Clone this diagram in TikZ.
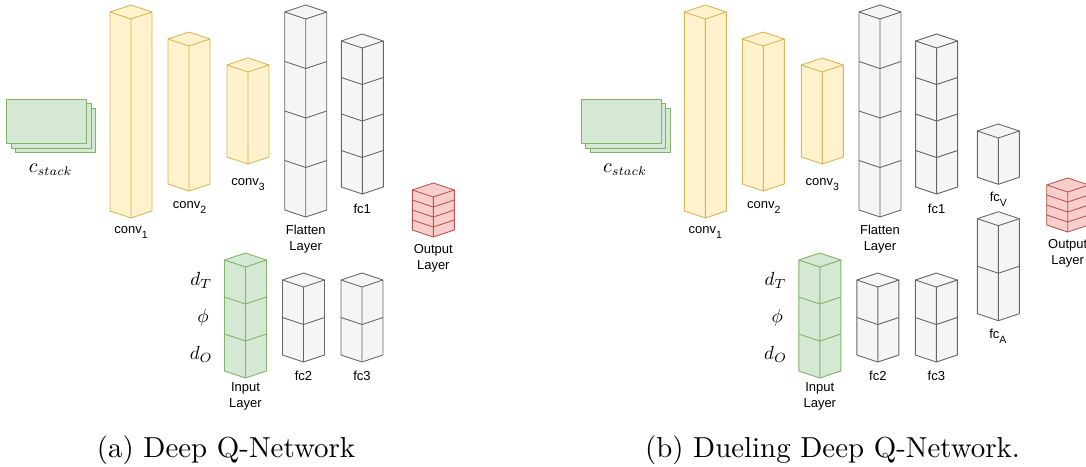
\documentclass[tikz,border=0pt]{standalone}
\usepackage{fontspec}
\setsansfont{Liberation Sans}
\newfontfamily\capfont{lmroman10-regular.otf}
% math italic drawn from the 10pt and 7pt designs, scaled up
\DeclareFontShape{OML}{cmm}{m}{it}{<-16> cmmi7 <16-> cmmi10}{}
\DeclareMathSizes{20}{20}{12.5}{10}

\definecolor{yfill}{HTML}{FFF2CC}\definecolor{ydraw}{HTML}{D6B656}
\definecolor{gfill}{HTML}{D5E8D4}\definecolor{gdraw}{HTML}{82B366}
\definecolor{wfill}{HTML}{F5F5F5}\definecolor{wdraw}{HTML}{666666}
\definecolor{rfill}{HTML}{F8CECC}\definecolor{rdraw}{HTML}{B85450}

% isometric prism: #1 name, #2 style, #3 centre x, #4 top y, #5 bottom y, #6 number of cubes
\newcommand{\layerprism}[6]{%
  \coordinate (#1) at (#3,{(#4+#5)/2});
  \filldraw[#2] (#3,#4) -- (#3-21,#4+7) -- (#3-21,#5-7) -- (#3,#5)
    -- (#3+21,#5-7) -- (#3+21,#4+7) -- cycle;
  \draw[#2,fill=none] (#3-21,#4+7) -- (#3,#4+14) -- (#3+21,#4+7)
    (#3,#4+14) -- (#3,#5);
  \ifnum#6>1
    \foreach \k in {2,...,#6}{%
      \pgfmathsetmacro\yy{#4+14+(\k-1)*(#5-#4-14)/#6}
      \draw[#2,fill=none] (#3-21,\yy-7) -- (#3,\yy) -- (#3+21,\yy-7);
    }%
  \fi
}

\tikzset{
  ybox/.style={draw=ydraw,fill=yfill,line width=0.9pt,line join=round},
  gbox/.style={draw=gdraw,fill=gfill,line width=0.9pt,line join=round},
  wbox/.style={draw=wdraw,fill=wfill,line width=0.9pt,line join=round},
  rbox/.style={draw=rdraw,fill=rfill,line width=0.9pt,line join=round},
  frame/.style={gbox,minimum width=80pt,minimum height=44.5pt,inner sep=0pt},
  lbl/.style={font=\sffamily\fontsize{13}{15.7}\selectfont,inner sep=0pt,align=center},
  mlbl/.style={inner sep=0pt,anchor=base},
  captext/.style={font=\capfont\fontsize{28.9}{34}\selectfont,inner sep=0pt,anchor=base},
}
\newcommand{\sbs}[1]{\raisebox{-5pt}{\fontsize{10.5}{10.5}\selectfont #1}}

\begin{document}
\begin{tikzpicture}[x=1pt,y=-1pt]
\useasboundingbox (0,0) rectangle (1086,466);
\clip (0,0) rectangle (1086,466);

% ---------- (a) Deep Q-Network ----------
\node[frame] (a-s3) at (55.7,130.2) {};
\node[frame] (a-s2) at (51.2,125.7) {};
\node[frame] (a-s1) at (46.7,121.2) {};
\node[mlbl,font=\fontsize{20}{24}\selectfont] (a-cstack) at (50.5,172.7) {$c_{stack}$};

\layerprism{a-conv1}{ybox}{131}{5}{218}{1}
\layerprism{a-conv2}{ybox}{189}{32}{191}{1}
\layerprism{a-conv3}{ybox}{248}{58}{164}{1}
\node[lbl,anchor=base] (a-l1) at (131,233) {conv\sbs{1}};
\node[lbl,anchor=base] (a-l2) at (189.5,208.3) {conv\sbs{2}};
\node[lbl,anchor=base] (a-l3) at (248,185) {conv\sbs{3}};

\layerprism{a-flat}{wbox}{305.7}{5}{217}{4}
\layerprism{a-fc1}{wbox}{362.3}{34}{194}{4}
\node[lbl,anchor=north] (a-lflat) at (305.7,225) {Flatten\\Layer};
\node[lbl,anchor=base] (a-lfc1) at (362.3,213.3) {fc1};

\layerprism{a-out}{rbox}{433.3}{183}{237}{4}
\node[lbl,anchor=north] (a-lout) at (433.3,244.7) {Output\\Layer};

\layerprism{a-in}{gbox}{245.5}{253}{378}{3}
\node[lbl,anchor=north] (a-lin) at (245.5,382.4) {Input\\Layer};
\node[mlbl,font=\fontsize{19}{22}\selectfont] (a-dT) at (201,285.7) {$d_T$};
\node[mlbl,font=\fontsize{19}{22}\selectfont] (a-phi) at (203,322) {$\phi$};
\node[mlbl,font=\fontsize{19}{22}\selectfont] (a-dO) at (201,359) {$d_O$};

\layerprism{a-fc2}{wbox}{303.5}{273}{362}{2}
\layerprism{a-fc3}{wbox}{362}{273}{362}{2}
\node[lbl,anchor=base] (a-lfc2) at (303.5,380) {fc2};
\node[lbl,anchor=base] (a-lfc3) at (362,380) {fc3};

\node[captext] (capa) at (226,457) {(a) Deep Q-Network};

% ---------- (b) Dueling Deep Q-Network ----------
\begin{scope}[xshift=574.3pt]
\node[frame] (b-s3) at (55.7,130.2) {};
\node[frame] (b-s2) at (51.2,125.7) {};
\node[frame] (b-s1) at (46.7,121.2) {};
\node[mlbl,font=\fontsize{20}{24}\selectfont] (b-cstack) at (50.5,172.7) {$c_{stack}$};

\layerprism{b-conv1}{ybox}{131}{5}{218}{1}
\layerprism{b-conv2}{ybox}{189}{32}{191}{1}
\layerprism{b-conv3}{ybox}{248}{58}{164}{1}
\node[lbl,anchor=base] (b-l1) at (131,233) {conv\sbs{1}};
\node[lbl,anchor=base] (b-l2) at (189.5,208.3) {conv\sbs{2}};
\node[lbl,anchor=base] (b-l3) at (248,185) {conv\sbs{3}};

\layerprism{b-flat}{wbox}{305.7}{5}{217}{4}
\layerprism{b-fc1}{wbox}{362.3}{34}{194}{4}
\node[lbl,anchor=north] (b-lflat) at (305.7,225) {Flatten\\Layer};
\node[lbl,anchor=base] (b-lfc1) at (362.3,213.3) {fc1};

\layerprism{b-fcV}{wbox}{424}{124}{184.3}{1}
\node[lbl,anchor=base] (b-lfcV) at (424,201.7) {fc\sbs{V}};
\layerprism{b-fcA}{wbox}{424}{211.7}{320.7}{2}
\node[lbl,anchor=base] (b-lfcA) at (423.5,338.3) {fc\sbs{A}};

\layerprism{b-out}{rbox}{493.4}{178}{232}{4}
\node[lbl,anchor=north] (b-lout) at (493.4,239.3) {Output\\Layer};

\layerprism{b-in}{gbox}{245.5}{253}{378}{3}
\node[lbl,anchor=north] (b-lin) at (245.5,382.4) {Input\\Layer};
\node[mlbl,font=\fontsize{19}{22}\selectfont] (b-dT) at (201,285.7) {$d_T$};
\node[mlbl,font=\fontsize{19}{22}\selectfont] (b-phi) at (203,322) {$\phi$};
\node[mlbl,font=\fontsize{19}{22}\selectfont] (b-dO) at (201,359) {$d_O$};

\layerprism{b-fc2}{wbox}{303.5}{273}{362}{2}
\layerprism{b-fc3}{wbox}{362}{273}{362}{2}
\node[lbl,anchor=base] (b-lfc2) at (303.5,380) {fc2};
\node[lbl,anchor=base] (b-lfc3) at (362,380) {fc3};
\end{scope}

\node[captext] (capb) at (832.5,457) {(b) Dueling Deep Q-Network.};
\end{tikzpicture}
\end{document}
